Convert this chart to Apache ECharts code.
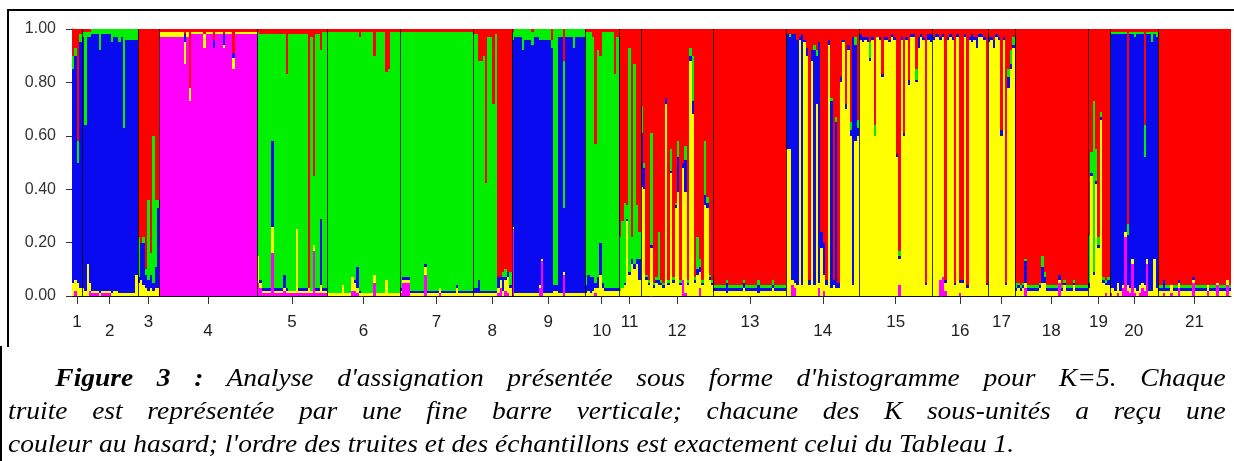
<!DOCTYPE html>
<html>
<head>
<meta charset="utf-8">
<script src="https://cdn.jsdelivr.net/npm/echarts@6/dist/echarts.min.js"></script>
<style>
html, body { margin: 0; padding: 0; background: #fff; }
#wrap { position: relative; width: 1234px; height: 461px; overflow: hidden; }
#myChart { position: absolute; left: 0; top: 0; width: 1234px; height: 461px; }
.line { position: absolute; background: #000; }
#caption {
  position: absolute; left: 8px; top: 361px; width: 1107px;
  transform: scaleX(1.1); transform-origin: 0 0;
  font-family: "Liberation Serif", "Times New Roman", serif;
  font-style: italic; font-size: 25px; line-height: 33px; color: #000;
}
#caption .just { text-align: justify; text-align-last: justify; }
#caption .first { text-indent: 43px; }
</style>
</head>
<body>
<div id="wrap">
  <div id="myChart"></div>
  <div class="line" style="left:7px;top:9px;width:1227px;height:2px;"></div>
  <div class="line" style="left:7px;top:9px;width:2px;height:338px;"></div>
  <div class="line" style="left:0px;top:346px;width:2px;height:115px;"></div>
  <div id="caption">
    <div class="just first"><b>Figure 3 :</b> Analyse d'assignation présentée sous forme d'histogramme pour K=5. Chaque</div>
    <div class="just">truite est représentée par une fine barre verticale; chacune des K sous-unités a reçu une</div>
    <div>couleur au hasard; l'ordre des truites et des échantillons est exactement celui du Tableau 1.</div>
  </div>
</div>
<script>
// une ligne = [nombre de truites, magenta, jaune, bleu, vert, rouge] (en %)
var pop1 = [[1,0,5,80,5,10],[1,2,4,84,3,7],[1,0,5,45,8,42],[1,0,3,92,3,2]];
var pop2 = [[1,0,3,94,2,1],[1,0,2,62,35,1],[1,0,12,85,2,1],[1,2,3,92,2,1],[3,1,1,96,2,0],[1,0,1,91,8,0],[4,1,1,96,2,0],[1,0,1,94,5,0],[2,0,2,95,3,0],[1,0,1,94,5,0],[1,0,1,96,3,0],[1,0,1,62,37,0],[4,0,1,95,4,0],[1,0,8,88,4,0]];
var pop3 = [[1,0,5,2,15,78],[1,0,6,14,0,80],[1,0,4,16,2,78],[1,0,3,5,2,90],[1,0,2,4,30,64],[1,0,3,5,8,84],[1,0,2,3,55,40],[1,0,3,8,25,64],[1,0,3,30,3,64]];
var pop4 = [[10,97,2,0,0,1],[1,87,8,3,0,2],[1,97,2,0,0,1],[1,73,5,0,0,22],[5,98,1,0,0,1],[1,93,5,0,0,2],[3,98,1,0,0,1],[1,93,0,3,0,4],[3,98,1,0,0,1],[1,93,1,4,0,2],[3,98,1,0,0,1],[1,85,4,2,0,9],[9,98,1,0,0,1]];
var pop5 = [[1,5,10,0,84,1],[1,3,2,1,92,2],[4,1,1,1,95,2],[1,16,10,32,40,2],[4,1,1,1,95,2],[1,2,1,5,90,2],[1,1,1,1,80,17],[3,1,1,0,96,2],[1,1,24,0,73,2],[4,1,1,1,95,2],[1,1,2,0,0,97],[1,1,1,0,95,3],[1,17,2,0,26,55],[1,1,1,1,95,2],[1,1,1,1,95,2],[1,1,3,25,63,8],[2,1,1,1,96,1]];
var pop6 = [[6,0,1,0,98,1],[1,0,4,0,95,1],[3,0,1,0,98,1],[1,2,5,0,92,1],[1,2,3,1,93,1],[1,1,2,8,88,1],[1,0,1,1,95,3],[5,0,1,0,98,1],[1,5,3,0,82,10],[4,0,1,0,98,1],[1,0,6,0,78,16],[1,0,1,0,84,15],[4,0,1,0,98,1]];
var pop7 = [[1,1,1,1,96,1],[3,5,1,1,92,1],[6,0,1,1,97,1],[1,8,3,1,87,1],[5,0,1,1,97,1],[1,1,2,0,96,1],[6,0,1,1,97,1],[1,0,3,1,95,1],[6,0,1,1,97,1]];
var pop8 = [[2,0,1,2,95,2],[1,0,1,5,82,12],[1,0,1,1,86,12],[1,0,1,1,88,10],[1,0,1,1,40,57],[2,0,1,1,95,3],[1,0,1,1,70,28],[1,0,1,1,96,2],[1,1,2,4,0,93],[1,3,3,1,0,93],[1,0,2,5,2,91],[1,2,4,1,3,90],[1,1,6,2,0,91],[1,0,3,1,5,91]];
var pop9 = [[1,25,1,70,3,1],[3,0,1,96,3,0],[1,0,1,91,8,0],[3,0,1,95,4,0],[1,0,1,93,5,1],[2,0,1,96,3,0],[1,3,1,92,4,0],[1,13,1,82,4,0],[3,0,1,95,4,0],[1,0,1,92,3,4],[2,0,2,2,96,0],[2,0,1,96,3,0],[1,8,1,24,55,12],[3,0,1,96,3,0],[1,0,1,92,7,0],[4,0,1,96,3,0]];
var pop10 = [[1,0,1,3,95,1],[1,0,2,6,91,1],[1,0,1,6,92,1],[1,0,2,5,90,3],[1,1,2,2,52,43],[1,0,3,4,85,8],[1,0,8,12,70,10],[1,0,3,2,94,1],[4,0,2,1,96,1],[1,0,2,1,80,17],[1,0,2,1,94,3]];
var pop11 = [[1,0,2,0,20,78],[1,0,3,0,25,72],[1,0,4,1,30,65],[1,0,28,1,5,66],[1,0,8,1,84,7],[1,0,12,2,8,78],[1,0,10,2,75,13],[1,0,12,2,20,66],[1,0,6,8,10,76]];
var pop12 = [[1,0,41,20,10,29],[1,0,40,8,2,50],[1,0,6,1,1,92],[1,0,4,1,1,94],[1,0,18,1,42,39],[1,0,3,1,1,95],[1,0,5,1,1,93],[1,0,4,2,18,76],[1,0,4,1,1,94],[1,0,3,1,1,95],[1,0,72,2,0,26],[1,0,4,1,1,94],[1,0,46,1,8,45],[1,0,5,1,1,93],[1,0,33,1,1,65],[1,0,39,13,6,42],[1,0,4,1,1,94],[1,6,42,2,0,50],[1,1,38,12,5,44],[1,0,4,1,1,94],[1,0,88,2,3,7],[1,0,68,5,17,10],[1,0,5,1,1,93],[1,0,8,2,12,78],[1,3,6,2,3,86],[1,0,4,1,1,94],[1,0,34,4,20,42],[1,0,33,2,2,63],[1,0,6,1,1,92],[1,0,4,1,1,94]];
var pop13 = [[5,0,2,1,1,96],[1,0,1,4,1,94],[6,0,2,1,1,96],[1,0,3,2,1,94],[5,0,2,1,1,96],[1,0,1,3,2,94],[5,0,2,1,1,96],[1,0,3,1,2,94],[5,0,2,1,1,96]];
var pop14 = [[1,0,55,43,0,2],[1,0,55,42,1,2],[1,4,2,92,0,2],[1,3,2,93,0,2],[1,0,4,92,0,4],[1,0,96,1,0,3],[1,0,4,94,0,2],[1,0,95,1,0,4],[1,0,90,3,0,7],[1,0,4,2,0,94],[1,0,88,4,0,8],[1,0,4,88,2,6],[1,0,72,18,2,8],[1,3,2,90,0,5],[1,0,18,6,0,76],[1,2,6,12,0,80],[1,0,4,2,0,94],[1,0,94,2,0,4],[1,0,3,70,1,26],[1,0,4,2,0,94],[1,0,3,62,2,33],[1,0,3,2,0,95],[1,0,80,2,0,18],[1,0,95,1,0,4],[1,0,70,2,0,28],[1,0,92,2,0,6],[1,0,60,2,3,35],[1,0,4,93,0,3],[1,0,58,36,3,3],[1,0,60,3,3,34]];
var pop15 = [[1,0,96,2,0,2],[1,0,95,2,0,3],[1,0,96,1,0,3],[1,0,95,2,0,3],[1,0,88,1,6,5],[1,0,96,1,0,3],[1,0,60,0,4,36],[1,0,97,0,0,3],[1,0,96,1,0,3],[1,0,82,1,0,17],[1,0,96,1,0,3],[1,0,96,1,0,3],[1,0,95,1,0,4],[1,0,97,1,0,2],[1,0,96,1,0,3],[1,0,52,1,0,47],[1,4,10,1,2,83],[1,0,96,1,0,3],[1,0,60,1,0,39],[1,0,96,1,0,3],[1,0,79,2,0,19],[1,0,97,1,0,2],[1,0,97,1,0,2],[1,0,80,1,4,15],[1,0,93,4,0,3],[1,0,97,1,0,2],[1,0,96,1,0,3],[1,0,4,1,0,95],[1,0,96,2,0,2],[1,0,95,3,0,2]];
var pop16 = [[1,0,96,1,0,3],[2,0,97,1,0,2],[1,6,90,1,0,3],[1,7,90,1,0,2],[1,2,3,1,0,94],[1,0,96,1,0,3],[1,0,97,1,0,2],[1,0,96,1,0,3],[1,0,4,1,0,95],[1,0,97,1,0,2],[1,1,4,1,0,94],[1,0,5,1,0,94],[1,0,97,1,0,2],[1,0,3,1,0,96],[1,0,96,1,0,3],[1,0,95,3,0,2],[1,0,96,1,0,3],[1,0,93,4,0,3],[2,0,97,1,0,2],[1,0,96,1,0,3],[1,0,4,1,0,95]];
var pop17 = [[1,0,95,2,0,3],[1,0,96,1,0,3],[1,0,93,3,0,4],[1,0,97,1,0,2],[1,0,96,1,0,3],[1,0,60,2,0,38],[1,0,96,1,0,3],[1,0,4,1,0,95],[1,0,78,4,3,15],[1,0,85,2,5,8],[1,0,93,1,3,3]];
var pop18 = [[1,0,2,1,2,95],[1,0,3,1,1,95],[1,0,2,1,1,96],[1,0,3,1,1,95],[1,3,2,8,1,86],[5,0,2,1,1,96],[1,0,3,1,1,95],[1,0,5,6,4,85],[1,0,5,2,2,91],[5,0,2,1,1,96],[1,5,1,2,0,92],[1,0,2,1,1,96],[1,0,4,1,1,94],[3,0,2,1,1,96],[1,0,4,1,1,94],[5,0,2,1,1,96]];
var pop19 = [[1,0,3,2,18,77],[1,0,45,1,8,46],[1,0,8,1,64,27],[1,0,42,1,12,45],[1,0,18,1,3,78],[1,0,66,1,2,31],[1,0,5,1,1,93],[1,1,3,1,1,94],[1,0,4,2,1,93]];
var pop20 = [[1,1,2,95,1,1],[1,0,3,95,1,1],[1,0,2,96,1,1],[1,1,4,93,1,1],[1,0,2,96,1,1],[1,3,1,94,1,1],[1,22,2,74,1,1],[1,2,2,19,4,73],[1,1,2,95,1,1],[1,12,2,84,1,1],[1,1,2,94,2,1],[1,0,2,96,1,1],[1,1,3,94,1,1],[1,3,2,93,1,1],[1,2,2,48,12,36],[1,12,2,84,1,1],[1,0,2,96,1,1],[1,0,2,93,4,1],[1,0,14,84,1,1],[1,0,3,94,2,1]];
var pop21 = [[2,0,2,1,1,96],[1,1,1,4,0,94],[2,0,2,1,1,96],[1,1,3,0,0,96],[2,0,2,1,1,96],[1,3,2,1,0,94],[5,0,2,1,1,96],[1,5,1,1,0,93],[5,0,2,1,1,96],[1,2,2,0,0,96],[3,0,2,1,1,96],[1,4,1,0,0,95],[3,0,2,1,1,96],[1,4,2,0,0,94],[1,0,2,1,1,96]];

var popLabels = ["1","2","3","4","5","6","7","8","9","10","11","12","13","14","15","16","17","18","19","20","21"];

// ordre d'empilement de bas en haut : magenta, jaune, bleu, vert, rouge
var clusterColors = ["#ff00ff", "#ffff00", "#0a0af0", "#00f000", "#ff0000"];

var pops = [pop1, pop2, pop3, pop4, pop5, pop6, pop7, pop8, pop9, pop10, pop11,
  pop12, pop13, pop14, pop15, pop16, pop17, pop18, pop19, pop20, pop21];

var runs = [];
var bounds = [];
var centers = [];
var pos = 0;
pops.forEach(function (pop, i) {
  var start = pos;
  pop.forEach(function (r) {
    var tot = r[1] + r[2] + r[3] + r[4] + r[5];
    runs.push([pos, pos + r[0], r[1] / tot, r[2] / tot, r[3] / tot, r[4] / tot, r[5] / tot]);
    pos += r[0];
  });
  centers.push((start + pos) / 2);
  if (i > 0) bounds.push(start);
});
var total = pos;

function labelFor(v) {
  for (var i = 0; i < centers.length; i++) {
    if (Math.abs(centers[i] - v) < 0.01) return i;
  }
  return -1;
}

var labelFont = "Liberation Sans, Arial, sans-serif";

var myChart = echarts.init(document.getElementById("myChart"));
myChart.setOption({
  animation: false,
  grid: { left: 72, right: 3, top: 29, bottom: 165 },
  xAxis: {
    type: "value",
    min: 0,
    max: total,
    splitLine: { show: false },
    axisLine: { show: true, lineStyle: { color: "#111", width: 1 } },
    axisTick: {
      show: true,
      length: 8,
      customValues: centers,
      lineStyle: { color: "#333" }
    },
    axisLabel: {
      customValues: centers,
      margin: 18,
      formatter: function (v) {
        var i = labelFor(v);
        if (i < 0) return "";
        return (i % 2 === 0 ? "{hi|" : "{lo|") + popLabels[i] + "}";
      },
      rich: {
        hi: { fontFamily: labelFont, fontSize: 17, color: "#222", lineHeight: 17 },
        lo: { fontFamily: labelFont, fontSize: 17, color: "#222", lineHeight: 17, padding: [17, 0, 0, 0] }
      }
    }
  },
  yAxis: {
    type: "value",
    min: 0,
    max: 1,
    interval: 0.2,
    splitLine: { show: false },
    axisLine: { show: true, lineStyle: { color: "#111", width: 1 } },
    axisTick: { show: true, length: 6, lineStyle: { color: "#333" } },
    axisLabel: {
      margin: 16,
      fontFamily: labelFont,
      fontSize: 16,
      color: "#333",
      formatter: function (v) { return v.toFixed(2); }
    }
  },
  series: [
    {
      type: "custom",
      silent: true,
      clip: true,
      data: runs,
      renderItem: function (params, api) {
        var x0 = api.value(0), x1 = api.value(1);
        var children = [];
        var base = 0;
        for (var k = 0; k < 5; k++) {
          var v = api.value(2 + k);
          if (v > 0) {
            var pTop = api.coord([x0, base + v]);
            var pBot = api.coord([x1, base]);
            var left = Math.round(pTop[0]), right = Math.round(pBot[0]);
            var top = Math.round(pTop[1]), bot = Math.round(pBot[1]);
            if (bot > top) {
              children.push({
                type: "rect",
                shape: { x: left, y: top, width: right - left, height: bot - top },
                style: { fill: clusterColors[k] }
              });
            }
          }
          base += v;
        }
        return { type: "group", children: children };
      }
    },
    {
      // limites des échantillons
      type: "custom",
      silent: true,
      data: bounds,
      renderItem: function (params, api) {
        var p0 = api.coord([api.value(0), 0]);
        var p1 = api.coord([api.value(0), 1]);
        var x = Math.round(p0[0]) + 0.5;
        return {
          type: "line",
          shape: { x1: x, y1: p1[1], x2: x, y2: p0[1] },
          style: { stroke: "rgba(0,0,0,0.8)", lineWidth: 1 }
        };
      }
    }
  ]
});
</script>
</body>
</html>
